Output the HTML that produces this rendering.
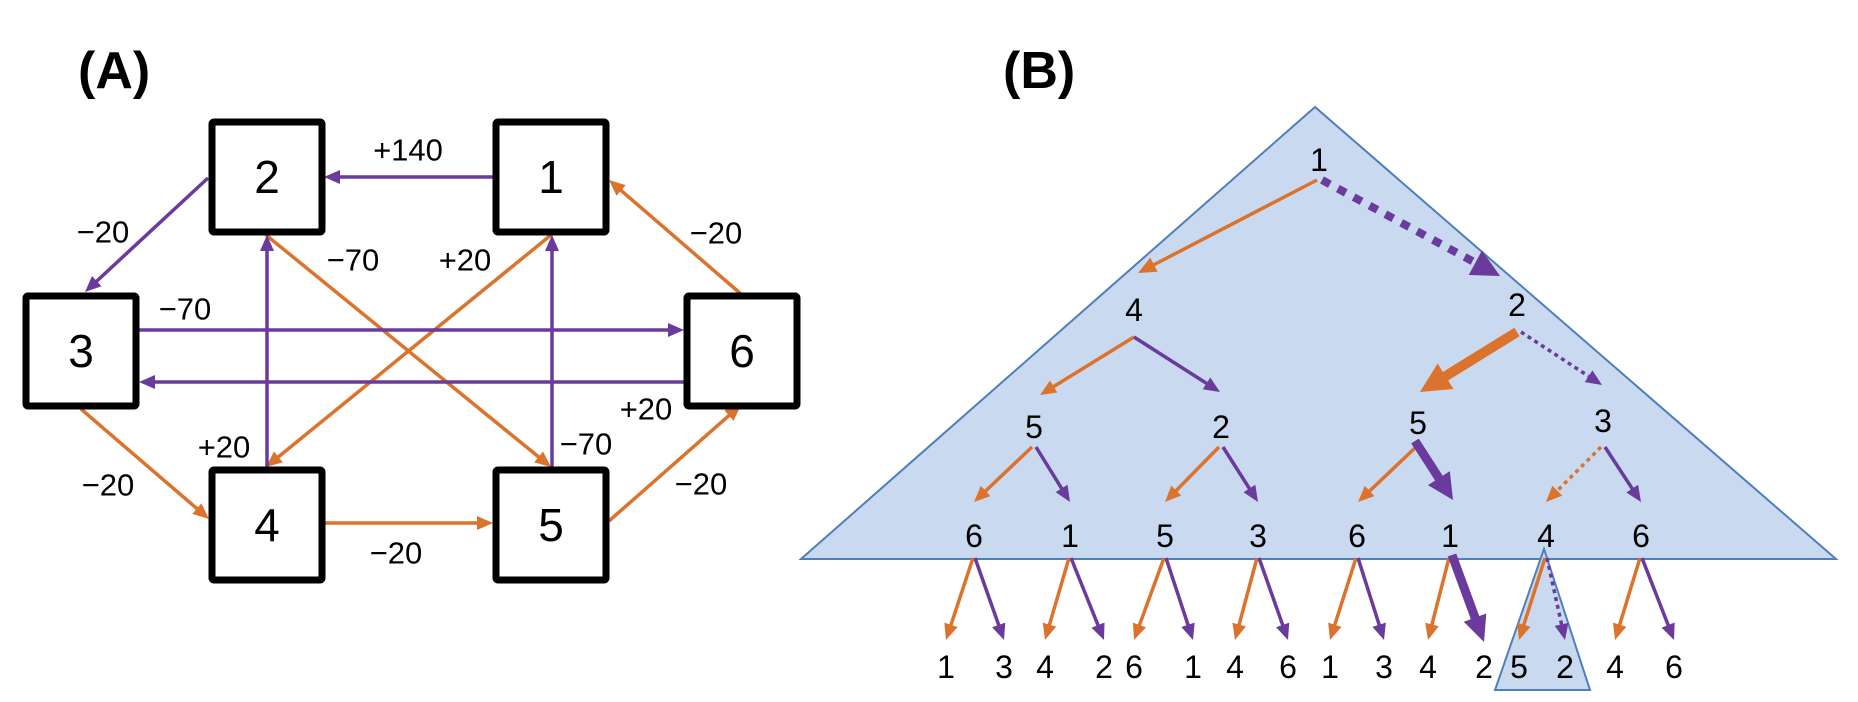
<!DOCTYPE html>
<html><head><meta charset="utf-8">
<style>
html,body{margin:0;padding:0;background:#fff;}
svg{display:block;font-family:"Liberation Sans",Arial,sans-serif;}
</style></head>
<body>
<svg id="fig" width="1858" height="702" viewBox="0 0 1858 702" xmlns="http://www.w3.org/2000/svg">
<text x="78" y="88" font-size="52" font-weight="bold">(A)</text>
<text x="1003" y="88" font-size="52" font-weight="bold">(B)</text>
<polygon points="1315,107 801,559 1836,559" fill="#C9D9EF" stroke="#4F7FBA" stroke-width="2"/>
<polygon points="1544,549 1495,690 1590,690" fill="#C9D9EF" stroke="#4F7FBA" stroke-width="2"/>
<g id="edges"></g>
<g id="boxes"></g>
<g id="labels"></g>
</svg>
<script>
const NS='http://www.w3.org/2000/svg';
const OR='#DC732C', PU='#6A3A9C';
const edges=document.getElementById('edges');
const boxesG=document.getElementById('boxes');
const labelsG=document.getElementById('labels');
function arrow(x1,y1,x2,y2,c,w,dash,hl,hw,name){
  const g=document.createElementNS(NS,'g');
  
  
  const dx=x2-x1,dy=y2-y1,L=Math.hypot(dx,dy),ux=dx/L,uy=dy/L;
  const bx=x2-ux*hl,by=y2-uy*hl;
  const l=document.createElementNS(NS,'line');
  l.setAttribute('x1',x1);l.setAttribute('y1',y1);l.setAttribute('x2',bx+ux*2);l.setAttribute('y2',by+uy*2);
  l.setAttribute('stroke',c);l.setAttribute('stroke-width',w);
  if(dash)l.setAttribute('stroke-dasharray',dash);
  g.appendChild(l);
  const p=document.createElementNS(NS,'polygon');
  p.setAttribute('points',`${x2},${y2} ${bx-uy*hw/2},${by+ux*hw/2} ${bx+uy*hw/2},${by-ux*hw/2}`);
  p.setAttribute('fill',c);
  g.appendChild(p);
  edges.appendChild(g);
}
function text(x,y,s,fs,name){
  const t=document.createElementNS(NS,'text');
  t.setAttribute('x',x);t.setAttribute('y',y);t.setAttribute('font-size',fs);
  t.setAttribute('text-anchor','middle');t.setAttribute('dominant-baseline','central');
  t.textContent=s;
  
  
  labelsG.appendChild(t);
}
const aEdges=[
 [493,177,324,177,PU,'edge-1-2'],[208,178,85,292,PU,'edge-2-3'],
 [266,235,551,467,OR,'edge-2-5'],[551,235,266,467,OR,'edge-1-4'],
 [267,467,267,235,PU,'edge-4-2'],[552,467,552,235,PU,'edge-5-1'],
 [139,330,684,330,PU,'edge-3-6'],[684,382,139,382,PU,'edge-6-3'],
 [741,294,609,180,OR,'edge-6-1'],[81,409,209,519,OR,'edge-3-4'],
 [324,523,493,523,OR,'edge-4-5'],[609,521,741,405,OR,'edge-5-6']];
aEdges.forEach(e=>arrow(e[0],e[1],e[2],e[3],e[4],3.5,null,16,14,e[5]));
const aLabels=[['+140',408,150],['−20',103,232],['−70',353,260],['+20',465,260],['+20',224,447],['−70',586,444],['−70',185,309],['+20',646,409],['−20',716,233],['−20',108,485],['−20',396,553],['−20',701,484]];
aLabels.forEach((l,i)=>text(l[1],l[2],l[0],31,'weight-label-'+i));
const boxes=[['1',493,119],['2',209,119],['3',23,293],['6',684,293],['4',209,467],['5',493,467]];
boxes.forEach(b=>{
  const r=document.createElementNS(NS,'rect');
  r.setAttribute('x',b[1]+3);r.setAttribute('y',b[2]+3);r.setAttribute('width',110);r.setAttribute('height',110);
  r.setAttribute('fill','#fff');r.setAttribute('stroke','#000');r.setAttribute('stroke-width',7);r.setAttribute('rx',2);
  
  
  boxesG.appendChild(r);
  text(b[1]+58,b[2]+58,b[0],46,'node-label-'+b[0]);
});
arrow(1317,180,1138,273,OR,3.5,null,18,16,'tree-edge-1-4');
arrow(1322,180,1500,276,PU,8,'9,9',28,28,'tree-edge-1-2-best');
arrow(1134,337,1040,395,OR,3.5,null,16,14,'tree-edge-4-5');
arrow(1134,337,1220,392,PU,3.5,null,16,14,'tree-edge-4-2');
arrow(1517,332,1420,392,OR,10,null,30,30,'tree-edge-2-5-best');
arrow(1521,332,1602,385,PU,3.5,'4,4',16,14,'tree-edge-2-3');
const l2=[[1034,974,1070],[1221,1165,1258],[1418,1358,1453],[1603,1546,1641]];
l2.forEach((n,i)=>{
  arrow(n[0]-2,447,n[1],502,OR,3.5,i==3?'4,4':null,16,14,'tree-edge-l2-orange-'+i);
  if(i==2) arrow(n[0]-3,441,n[2],500,PU,9,null,26,26,'tree-edge-l2-purple-best');
  else arrow(n[0]+2,447,n[2],502,PU,3.5,null,16,14,'tree-edge-l2-purple-'+i);
});
const l3x=[974,1070,1165,1258,1357,1450,1546,1641];
const leafL=[946,1045,1134,1235,1330,1428,1519,1615];
const leafR=[1004,1104,1193,1288,1384,1484,1565,1674];
l3x.forEach((x,i)=>{
  arrow(x-1,558,leafL[i],640,OR,3.5,null,16,14,'leaf-edge-orange-'+i);
  if(i==5) arrow(x+2,555,leafR[i],642,PU,9,null,26,24,'leaf-edge-purple-best');
  else arrow(x+1,558,leafR[i],640,PU,3.5,i==6?'4,4':null,16,14,'leaf-edge-purple-'+i);
});
text(1319,160,'1',32,'tree-root');
text(1134,310,'4',32,'tree-l1-4');
text(1517,305,'2',32,'tree-l1-2');
['5','2','5','3'].forEach((s,i)=>text(l2[i][0],[427,427,423,421][i],s,32,'tree-l2-'+i));
['6','1','5','3','6','1','4','6'].forEach((s,i)=>text(l3x[i],536,s,32,'tree-l3-'+i));
const leafLs=['1','4','6','4','1','4','5','4'], leafRs=['3','2','1','6','3','2','2','6'];
leafL.forEach((x,i)=>text(x,667,leafLs[i],32,'leaf-left-'+i));
leafR.forEach((x,i)=>text(x,667,leafRs[i],32,'leaf-right-'+i));
</script>
</body></html>
